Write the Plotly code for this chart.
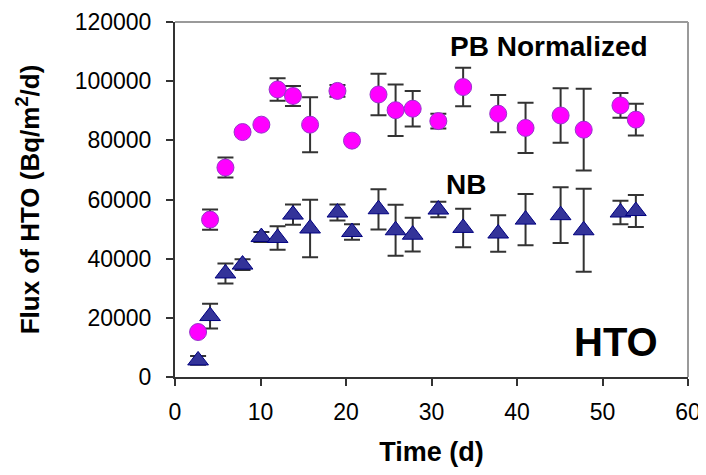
import plotly.graph_objects as go

# Time (d)
time_d = [2.7, 4.1, 5.9, 7.9, 10.1, 12.0, 13.8, 15.8, 19.0, 20.7, 23.8,
          25.8, 27.8, 30.8, 33.7, 37.8, 41.0, 45.1, 47.8, 52.1, 53.9]

# PB Normalized flux and error
pb_flux = [15200, 53200, 70800, 82800, 85300, 97200, 95000, 85300, 96700, 79900, 95500,
           90200, 90700, 86500, 98000, 89000, 84200, 88400, 83600, 91800, 87000]
pb_err = [0, 3400, 3400, 0, 0, 3800, 3400, 9300, 2000, 0, 7000,
          8700, 6000, 2500, 6500, 6300, 8500, 9200, 13800, 4200, 5400]

# NB flux and error
nb_flux = [5600, 20600, 35000, 38000, 47300, 47000, 54900, 50200, 55600, 49000, 56700,
           49600, 48100, 56600, 50400, 48500, 53200, 54700, 49600, 55600, 56100]
nb_err = [1500, 4200, 3400, 1800, 1700, 4000, 3400, 9700, 2700, 2600, 6800,
          8600, 5700, 2600, 6500, 6200, 8700, 9400, 14000, 4000, 5400]

x_ticks = [0, 10, 20, 30, 40, 50, 60]
y_ticks = [0, 20000, 40000, 60000, 80000, 100000, 120000]

FONT = "Arial, 'Liberation Sans', sans-serif"

fig = go.Figure()

fig.add_trace(go.Scatter(
    x=time_d, y=nb_flux, mode="markers", name="NB",
    marker=dict(symbol="triangle-up", size=18, color="#333399",
                line=dict(color="#000080", width=1)),
    error_y=dict(type="data", array=nb_err, visible=True,
                 color="#333333", thickness=2, width=8),
))

fig.add_trace(go.Scatter(
    x=time_d, y=pb_flux, mode="markers", name="PB Normalized",
    marker=dict(symbol="circle", size=17, color="#FF00FF",
                line=dict(color="#9933CC", width=1)),
    error_y=dict(type="data", array=pb_err, visible=True,
                 color="#333333", thickness=2, width=8),
))

# frame (top / right lighter)
fig.add_shape(type="line", xref="paper", yref="paper", x0=0, x1=1, y0=1, y1=1,
              line=dict(color="#9a9a9a", width=2))
fig.add_shape(type="line", xref="paper", yref="paper", x0=1, x1=1, y0=0, y1=1,
              line=dict(color="#9a9a9a", width=2))

fig.add_annotation(x=43.8, y=111800, xref="x", yref="y", text="<b>PB Normalized</b>",
                   showarrow=False, font=dict(family=FONT, size=28, color="black"))
fig.add_annotation(x=34.0, y=65100, xref="x", yref="y", text="<b>NB</b>",
                   showarrow=False, font=dict(family=FONT, size=28, color="black"))
fig.add_annotation(x=51.6, y=12000, xref="x", yref="y", text="<b>HTO</b>",
                   showarrow=False, font=dict(family=FONT, size=40, color="black"))

# page body has an 8px margin: figure is placed at (8, 8)
fig.update_layout(
    width=698, height=459,
    margin=dict(l=167, r=18, t=14, b=90, autoexpand=False),
    paper_bgcolor="white", plot_bgcolor="white",
    showlegend=False,
    font=dict(family=FONT, color="black"),
    xaxis=dict(
        range=[0, 60], tickvals=x_ticks, ticktext=[str(v) for v in x_ticks],
        automargin=False, ticklabeloverflow="allow",
        showgrid=False, zeroline=False,
        showline=True, linecolor="#333333", linewidth=2,
        ticks="outside", ticklen=7, tickwidth=1.5, tickcolor="#333333",
        tickfont=dict(size=23, family=FONT, color="black"),
        ticklabelstandoff=6,
        title=dict(text="<b>Time (d)</b>", font=dict(size=27, family=FONT, color="black"),
                   standoff=33),
    ),
    yaxis=dict(
        range=[0, 120000], tickvals=y_ticks, ticktext=[str(v) for v in y_ticks],
        automargin=False, ticklabeloverflow="allow",
        showgrid=False, zeroline=False,
        showline=True, linecolor="#333333", linewidth=2,
        ticks="outside", ticklen=7, tickwidth=1.5, tickcolor="#333333",
        tickfont=dict(size=23, family=FONT, color="black"),
        ticklabelstandoff=10,
        title=dict(text="<b>Flux of HTO (Bq/m<sup>2</sup>/d)</b>",
                   font=dict(size=26, family=FONT, color="black"), standoff=28),
    ),
)

fig.write_html("out.html")
